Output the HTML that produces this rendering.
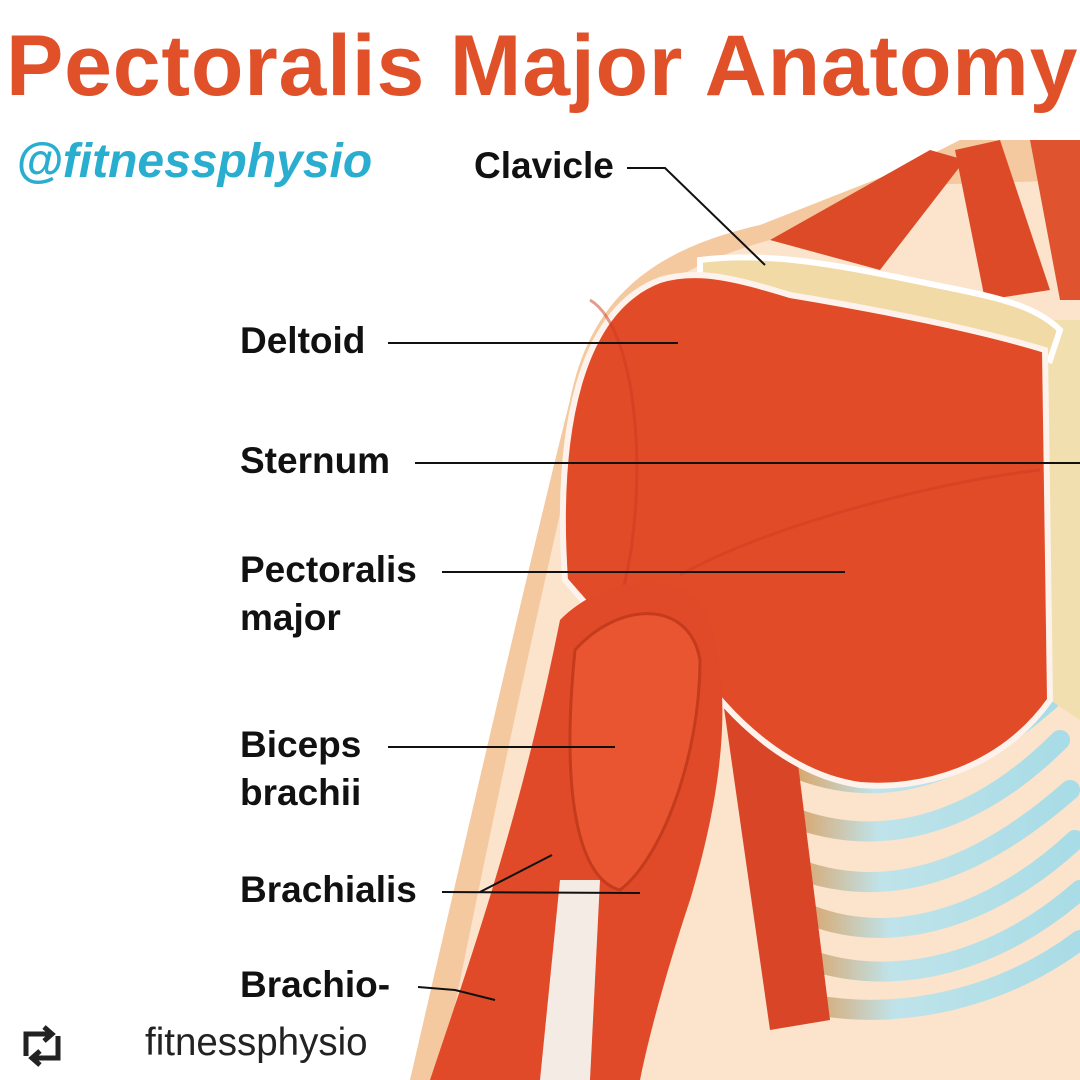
<!DOCTYPE html>
<html><head><meta charset="utf-8"><style>
html,body{margin:0;padding:0;background:#fff;}
#c{position:relative;width:1080px;height:1080px;overflow:hidden;background:#fff;font-family:"Liberation Sans",sans-serif;}
.t{position:absolute;white-space:nowrap;}
.lab{font-weight:bold;font-size:37px;color:#111;line-height:48px;}
</style></head><body><div id="c">
<svg width="1080" height="1080" style="position:absolute;left:0;top:0">
<defs>
<linearGradient id="rb" x1="0" x2="1"><stop offset="0" stop-color="#d9a870"/><stop offset="0.3" stop-color="#bfe3ea"/><stop offset="1" stop-color="#a8dce6"/></linearGradient>
</defs>
<path d="M410,1080 C470,820 530,560 570,400 C590,300 650,250 760,225 L900,170 L960,140 L1080,140 L1080,1080 Z" fill="#f4c9a0"/>
<path d="M440,1080 C490,830 545,570 585,410 C605,320 660,270 770,240 L920,185 L1080,180 L1080,1080 Z" fill="#fbe3cc"/>
<path d="M770,240 L930,150 L965,160 L880,270 Z" fill="#dd4a28"/>
<path d="M955,150 L1000,140 L1050,290 L985,300 Z" fill="#dd4a28"/>
<path d="M1030,140 L1080,140 L1080,300 L1060,300 Z" fill="#e0532f"/>
<g fill="none" stroke-linecap="round" stroke-width="20">
<path d="M800,770 C880,800 960,780 1050,700" stroke="url(#rb)"/>
<path d="M800,820 C890,850 980,820 1060,740" stroke="url(#rb)"/>
<path d="M800,870 C900,905 990,860 1070,790" stroke="url(#rb)"/>
<path d="M810,915 C900,950 1000,910 1075,840" stroke="url(#rb)"/>
<path d="M810,960 C900,990 1000,960 1080,890" stroke="url(#rb)"/>
<path d="M815,1005 C900,1020 1000,1000 1080,940" stroke="url(#rb)"/>
</g>
<path d="M720,680 L790,700 L830,1020 L770,1030 Z" fill="#d94527"/>
<path d="M1040,320 L1080,320 L1080,720 L1050,700 Z" fill="#f2dfb0"/>
<path d="M700,260 C780,250 860,270 960,290 C1010,300 1040,310 1060,330 L1050,360 C1000,340 900,320 800,300 C750,295 720,290 700,290 Z" fill="#f1daa6" stroke="#fff" stroke-width="6"/>
<path d="M565,580 C555,430 580,310 660,280 C700,268 740,280 790,295 C880,310 980,330 1045,350 L1050,700 C1000,770 920,790 860,785 C790,775 730,720 690,660 C660,620 630,600 600,620 Z" fill="#e24b28" stroke="#fdf3ec" stroke-width="6"/>
<path d="M590,300 C640,330 650,500 620,600" stroke="#c93a1e" stroke-width="3" fill="none" opacity=".5"/>
<path d="M680,575 C780,520 950,480 1040,470" stroke="#c93a1e" stroke-width="3" fill="none" opacity=".4"/>
<path d="M560,620 C600,580 660,570 700,600 C740,680 720,800 690,900 C670,960 650,1030 640,1080 L430,1080 C470,960 520,820 560,620 Z" fill="#e04a28"/>
<path d="M575,650 C620,600 690,600 700,660 C700,760 660,860 620,890 C580,880 560,800 575,650 Z" fill="#e85530" stroke="#c53b1d" stroke-width="3"/>
<path d="M560,880 L600,880 L590,1080 L540,1080 Z" fill="#f4ece4"/>
</svg>
<div class="t" style="left:6px;top:17px;font-size:86px;letter-spacing:0.8px;font-weight:bold;color:#e0512a;">Pectoralis Major Anatomy</div>
<div class="t" style="left:16px;top:134px;font-size:48px;font-weight:bold;font-style:italic;color:#2aaed0;">@fitnessphysio</div>
<div class="t lab" style="left:474px;top:142px;">Clavicle</div>
<div class="t lab" style="left:240px;top:317px;">Deltoid</div>
<div class="t lab" style="left:240px;top:437px;">Sternum</div>
<div class="t lab" style="left:240px;top:546px;">Pectoralis<br>major</div>
<div class="t lab" style="left:240px;top:721px;">Biceps<br>brachii</div>
<div class="t lab" style="left:240px;top:866px;">Brachialis</div>
<div class="t lab" style="left:240px;top:961px;">Brachio-</div>
<div class="t" style="left:145px;top:1021px;font-size:38.5px;color:#222;">fitnessphysio</div>
<svg width="1080" height="1080" style="position:absolute;left:0;top:0">
<g stroke="#111" stroke-width="2" fill="none">
<path d="M627,168 L665,168 L765,265"/>
<path d="M388,343 L678,343"/>
<path d="M415,463 L1080,463"/>
<path d="M442,572 L845,572"/>
<path d="M388,747 L615,747"/>
<path d="M442,892 L640,893"/>
<path d="M480,892 L552,855"/>
<path d="M418,987 L455,990 L495,1000"/>
</g>
<g stroke="#222" stroke-width="5" fill="none">
<path d="M26,1056 L26,1034 L50,1034"/><path d="M44,1027 L52,1034 L44,1041"/>
<path d="M58,1036 L58,1058 L34,1058"/><path d="M40,1051 L32,1058 L40,1065"/>
</g>
</svg>
</div></body></html>
